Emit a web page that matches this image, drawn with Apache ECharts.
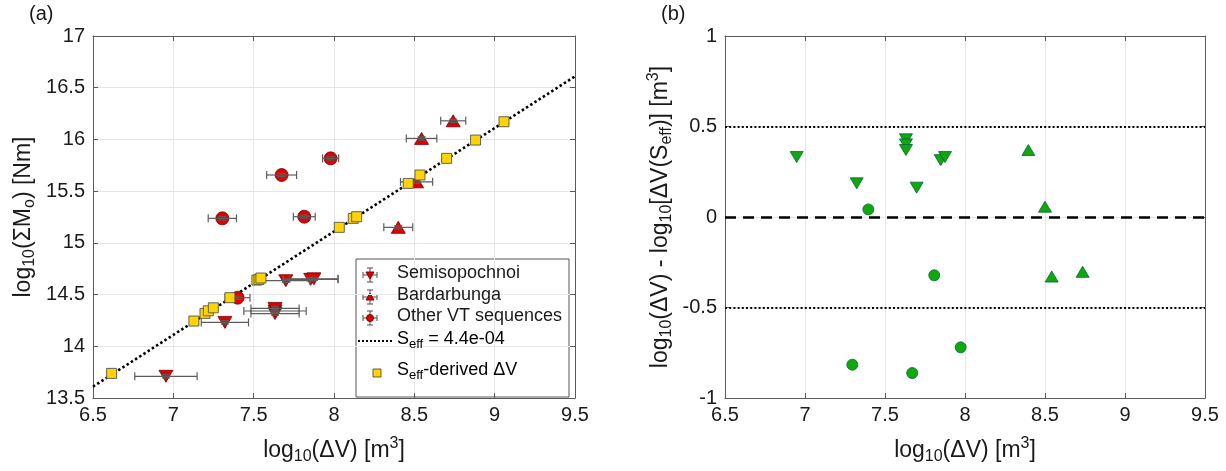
<!DOCTYPE html>
<html>
<head>
<meta charset="utf-8">
<script src="https://cdn.jsdelivr.net/npm/echarts@6/dist/echarts.min.js"></script>
<style>
html,body{margin:0;padding:0;background:#fff;}
#chart{width:1226px;height:471px;}
</style>
</head>
<body>
<div id="chart"></div>
<script>
// ---------- Panel (a) data ----------
const semiX   = [6.954, 7.321, 7.633, 7.633, 7.633, 7.700, 7.855, 7.875];
const semiY   = [13.71, 14.231, 14.316, 14.341, 14.366, 14.634, 14.647, 14.652];
const semiErr = [0.194, 0.147, 0.150, 0.194, 0.150, 0.150, 0.170, 0.150];

const bardX   = [8.742, 8.545, 8.514, 8.400];
const bardY   = [16.18, 16.01, 15.59, 15.15];
const bardErr = [0.078, 0.095, 0.100, 0.090];

const otherX   = [7.305, 7.674, 7.815, 7.979, 7.400];
const otherY   = [15.237, 15.656, 15.253, 15.817, 14.470];
const otherErr = [0.088, 0.093, 0.068, 0.050, 0.077];

const sqX = [6.616, 7.128, 7.197, 7.218, 7.249, 7.352, 7.520, 7.533, 7.545, 8.033, 8.120, 8.141, 8.462, 8.535, 8.701, 8.881, 9.058];
const sqY = [13.738, 14.244, 14.318, 14.343, 14.372, 14.470, 14.640, 14.647, 14.660, 15.150, 15.237, 15.253, 15.575, 15.656, 15.817, 15.994, 16.171];

const seffLineX = [6.5, 9.5];
const seffLineY = [13.61, 16.61];

// ---------- Panel (b) data ----------
const bSemiX  = [6.948, 7.323, 7.631, 7.631, 7.631, 7.698, 7.848, 7.875];
const bSemiY  = [0.331, 0.186, 0.429, 0.401, 0.370, 0.162, 0.314, 0.331];
const bBardX  = [8.396, 8.500, 8.542, 8.735];
const bBardY  = [0.370, 0.057, -0.329, -0.303];
const bOtherX = [7.396, 7.808, 7.296, 7.670, 7.973];
const bOtherY = [0.042, -0.322, -0.816, -0.862, -0.720];

const refLevels = [0.5, 0, -0.5];

const xTicks = ['6.5','7','7.5','8','8.5','9','9.5'];

// ---------- helpers ----------
const zip2 = (a, b) => a.map((v, i) => [v, b[i]]);
const zip3 = (a, b, c) => a.map((v, i) => [v, b[i], c[i]]);

const FONT = 'Liberation Sans, Arial, Helvetica, sans-serif';
const RED = '#e00000';
const GREEN = '#0fa80f';
const YELLOW = '#ffd400';
const EDGE = '#3a3a3a';
const AXC = '#5a5a5a';
const TXT = '#1a1a1a';

function errItem(params, api) {
  const x = api.value(0), y = api.value(1), e = api.value(2);
  const l = api.coord([x - e, y]), r = api.coord([x + e, y]), c = api.coord([x, y]);
  const h = 4;
  const style = { stroke: '#5c5c5c', lineWidth: 1.2, fill: null };
  return { type: 'group', children: [
    { type: 'line', shape: { x1: l[0], y1: l[1], x2: r[0], y2: r[1] }, style },
    { type: 'line', shape: { x1: l[0], y1: l[1] - h, x2: l[0], y2: l[1] + h }, style },
    { type: 'line', shape: { x1: r[0], y1: r[1] - h, x2: r[0], y2: r[1] + h }, style },
    { type: 'line', shape: { x1: c[0] - h, y1: c[1] - 1.6, x2: c[0] + h, y2: c[1] - 1.6 }, style },
    { type: 'line', shape: { x1: c[0] - h, y1: c[1] + 1.6, x2: c[0] + h, y2: c[1] + 1.6 }, style }
  ]};
}

const rich = {
  a: { fontSize: 23, fontFamily: FONT, color: TXT },
  s: { fontSize: 16, fontFamily: FONT, color: TXT, padding: [13, 0, 0, 0] },
  p: { fontSize: 16, fontFamily: FONT, color: TXT, padding: [0, 0, 13, 0] }
};
const richLeg = {
  a: { fontSize: 18, fontFamily: FONT, color: TXT },
  s: { fontSize: 13, fontFamily: FONT, color: TXT, padding: [11, 0, 0, 0] }
};

function xAx(gi, name) {
  return {
    type: 'value', gridIndex: gi, min: 6.5, max: 9.5, interval: 0.5,
    position: 'bottom',
    name: name, nameLocation: 'middle', nameGap: 38,
    nameTextStyle: { rich: rich },
    axisLine: { show: true, onZero: false, lineStyle: { color: AXC, width: 1 } },
    axisTick: { show: true, inside: true, length: 5, lineStyle: { color: AXC } },
    axisLabel: { color: TXT, fontSize: 20, fontFamily: FONT, margin: 7,
      formatter: v => xTicks[Math.round((v - 6.5) / 0.5)] },
    splitLine: { show: true, lineStyle: { color: '#e6e6e6', width: 1 } }
  };
}
function xTop(gi) {
  return {
    type: 'value', gridIndex: gi, min: 6.5, max: 9.5, interval: 0.5, position: 'top',
    axisLine: { show: true, onZero: false, lineStyle: { color: AXC, width: 1 } },
    axisTick: { show: true, inside: true, length: 5, lineStyle: { color: AXC } },
    axisLabel: { show: false }, splitLine: { show: false }
  };
}
function yAx(gi, min, max, name, gap) {
  return {
    type: 'value', gridIndex: gi, min: min, max: max, interval: 0.5, position: 'left',
    name: name, nameLocation: 'middle', nameGap: gap, nameRotate: 90,
    nameTextStyle: { rich: rich },
    axisLine: { show: true, onZero: false, lineStyle: { color: AXC, width: 1 } },
    axisTick: { show: true, inside: true, length: 5, lineStyle: { color: AXC } },
    axisLabel: { color: TXT, fontSize: 20, fontFamily: FONT, margin: 8 },
    splitLine: { show: true, lineStyle: { color: '#e6e6e6', width: 1 } }
  };
}
function yRight(gi, min, max) {
  return {
    type: 'value', gridIndex: gi, min: min, max: max, interval: 0.5, position: 'right',
    axisLine: { show: true, onZero: false, lineStyle: { color: AXC, width: 1 } },
    axisTick: { show: true, inside: true, length: 5, lineStyle: { color: AXC } },
    axisLabel: { show: false }, splitLine: { show: false }
  };
}

const chart = echarts.init(document.getElementById('chart'), null, { renderer: 'canvas' });

// legend (panel a)
const LX = 356, LY = 259, LW = 213, LH = 138;
const legendRows = [275, 297, 318, 341, 373];
function legErr(cy, marker) {
  const cx = 370;
  const st = { stroke: '#5c5c5c', lineWidth: 1.1 };
  const kids = [
    { type: 'line', shape: { x1: cx - 7, y1: cy, x2: cx + 7, y2: cy }, style: st },
    { type: 'line', shape: { x1: cx - 7, y1: cy - 3, x2: cx - 7, y2: cy + 3 }, style: st },
    { type: 'line', shape: { x1: cx + 7, y1: cy - 3, x2: cx + 7, y2: cy + 3 }, style: st },
    { type: 'line', shape: { x1: cx, y1: cy - 7, x2: cx, y2: cy + 7 }, style: st },
    { type: 'line', shape: { x1: cx - 3, y1: cy - 7, x2: cx + 3, y2: cy - 7 }, style: st },
    { type: 'line', shape: { x1: cx - 3, y1: cy + 7, x2: cx + 3, y2: cy + 7 }, style: st }
  ];
  if (marker === 'down') kids.push({ type: 'polygon', shape: { points: [[cx - 4, cy - 3], [cx + 4, cy - 3], [cx, cy + 4]] }, style: { fill: RED, stroke: '#800' } });
  if (marker === 'up') kids.push({ type: 'polygon', shape: { points: [[cx - 4, cy + 3], [cx + 4, cy + 3], [cx, cy - 4]] }, style: { fill: RED, stroke: '#800' } });
  if (marker === 'circle') kids.push({ type: 'circle', shape: { cx: cx, cy: cy, r: 3.5 }, style: { fill: RED, stroke: '#800' } });
  return kids;
}

const graphic = [
  { type: 'text', left: 29, top: 4, style: { text: '(a)', fill: TXT, font: '20px ' + FONT } },
  { type: 'text', left: 661, top: 4, style: { text: '(b)', fill: TXT, font: '20px ' + FONT } },
  { type: 'group', z: 100, children: [].concat(
    [{ type: 'rect', shape: { x: LX, y: LY, width: LW, height: LH }, style: { fill: '#fff', stroke: '#555', lineWidth: 1 } }],
    legErr(legendRows[0], 'down'),
    legErr(legendRows[1], 'up'),
    legErr(legendRows[2], 'circle'),
    [{ type: 'line', shape: { x1: 358, y1: legendRows[3], x2: 393, y2: legendRows[3] }, style: { stroke: '#000', lineWidth: 2, lineDash: [2, 2] } }],
    [{ type: 'rect', shape: { x: 373, y: legendRows[4] - 4, width: 8, height: 8 }, style: { fill: YELLOW, stroke: EDGE, lineWidth: 0.8 } }]
  ) },
  { type: 'text', z: 101, left: 397, top: legendRows[0] - 11, style: { text: 'Semisopochnoi', fill: TXT, font: '18px ' + FONT } },
  { type: 'text', z: 101, left: 397, top: legendRows[1] - 11, style: { text: 'Bardarbunga', fill: TXT, font: '18px ' + FONT } },
  { type: 'text', z: 101, left: 397, top: legendRows[2] - 11, style: { text: 'Other VT sequences', fill: TXT, font: '18px ' + FONT } },
  { type: 'text', z: 101, left: 397, top: legendRows[3] - 11, style: { text: '{a|S}{s|eff}{a| = 4.4e-04}', rich: richLeg } },
  { type: 'text', z: 101, left: 397, top: legendRows[4] - 12, style: { text: '{a|S}{s|eff}{a|-derived ΔV}', rich: richLeg } }
];

const option = {
  animation: false,
  backgroundColor: '#fff',
  grid: [
    { left: 93, top: 36, width: 482, height: 362, containLabel: false },
    { left: 725, top: 36, width: 480, height: 362, containLabel: false }
  ],
  xAxis: [
    xAx(0, '{a|log}{s|10}{a|(ΔV) [m}{p|3}{a|]}'),
    xAx(1, '{a|log}{s|10}{a|(ΔV) [m}{p|3}{a|]}'),
    xTop(0), xTop(1)
  ],
  yAxis: [
    yAx(0, 13.5, 17, '{a|log}{s|10}{a|(ΣM}{s|o}{a|) [Nm]}', 55),
    yAx(1, -1, 1, '{a|log}{s|10}{a|(ΔV) - log}{s|10}{a|[ΔV(S}{s|eff}{a|)] [m}{p|3}{a|]}', 50),
    yRight(0, 13.5, 17), yRight(1, -1, 1)
  ],
  graphic: graphic,
  series: [
    // ---- panel a ----
    { type: 'line', xAxisIndex: 0, yAxisIndex: 0, data: zip2(seffLineX, seffLineY), symbol: 'none', z: 2,
      lineStyle: { color: '#000', width: 2.6, type: [2.5, 2.5] } },
    { type: 'scatter', xAxisIndex: 0, yAxisIndex: 0, data: zip2(semiX, semiY), symbol: 'triangle', symbolRotate: 180, symbolSize: [14, 12], z: 3,
      itemStyle: { color: RED, borderColor: '#7a0000', borderWidth: 0.8, opacity: 1 } },
    { type: 'scatter', xAxisIndex: 0, yAxisIndex: 0, data: zip2(bardX, bardY), symbol: 'triangle', symbolSize: [14, 12], z: 3,
      itemStyle: { color: RED, borderColor: '#7a0000', borderWidth: 0.8, opacity: 1 } },
    { type: 'scatter', xAxisIndex: 0, yAxisIndex: 0, data: zip2(otherX, otherY), symbol: 'circle', symbolSize: 13, z: 3,
      itemStyle: { color: RED, borderColor: '#7a0000', borderWidth: 0.8, opacity: 1 } },
    { type: 'custom', xAxisIndex: 0, yAxisIndex: 0, renderItem: errItem, data: zip3(semiX, semiY, semiErr), z: 4, silent: true },
    { type: 'custom', xAxisIndex: 0, yAxisIndex: 0, renderItem: errItem, data: zip3(bardX, bardY, bardErr), z: 4, silent: true },
    { type: 'custom', xAxisIndex: 0, yAxisIndex: 0, renderItem: errItem, data: zip3(otherX, otherY, otherErr), z: 4, silent: true },
    { type: 'scatter', xAxisIndex: 0, yAxisIndex: 0, data: zip2(sqX, sqY), symbol: 'rect', symbolSize: 10, z: 5,
      itemStyle: { color: YELLOW, borderColor: '#555', borderWidth: 0.9, opacity: 1 } },
    // ---- panel b ----
    { type: 'line', xAxisIndex: 1, yAxisIndex: 1, data: [], symbol: 'none', z: 2,
      markLine: { silent: true, symbol: 'none', label: { show: false },
        data: refLevels.map(v => ({ yAxis: v, lineStyle: { color: '#000', width: v === 0 ? 2.6 : 2.2, type: v === 0 ? [11, 7] : [2, 2.2] } })) } },
    { type: 'scatter', xAxisIndex: 1, yAxisIndex: 1, data: zip2(bSemiX, bSemiY), symbol: 'triangle', symbolRotate: 180, symbolSize: [13, 11], z: 3,
      itemStyle: { color: GREEN, borderColor: '#063', borderWidth: 0.8, opacity: 1 } },
    { type: 'scatter', xAxisIndex: 1, yAxisIndex: 1, data: zip2(bBardX, bBardY), symbol: 'triangle', symbolSize: [13, 11], z: 3,
      itemStyle: { color: GREEN, borderColor: '#063', borderWidth: 0.8, opacity: 1 } },
    { type: 'scatter', xAxisIndex: 1, yAxisIndex: 1, data: zip2(bOtherX, bOtherY), symbol: 'circle', symbolSize: 11, z: 3,
      itemStyle: { color: GREEN, borderColor: '#063', borderWidth: 0.8, opacity: 1 } }
  ]
};
chart.setOption(option);
</script>
</body>
</html>
